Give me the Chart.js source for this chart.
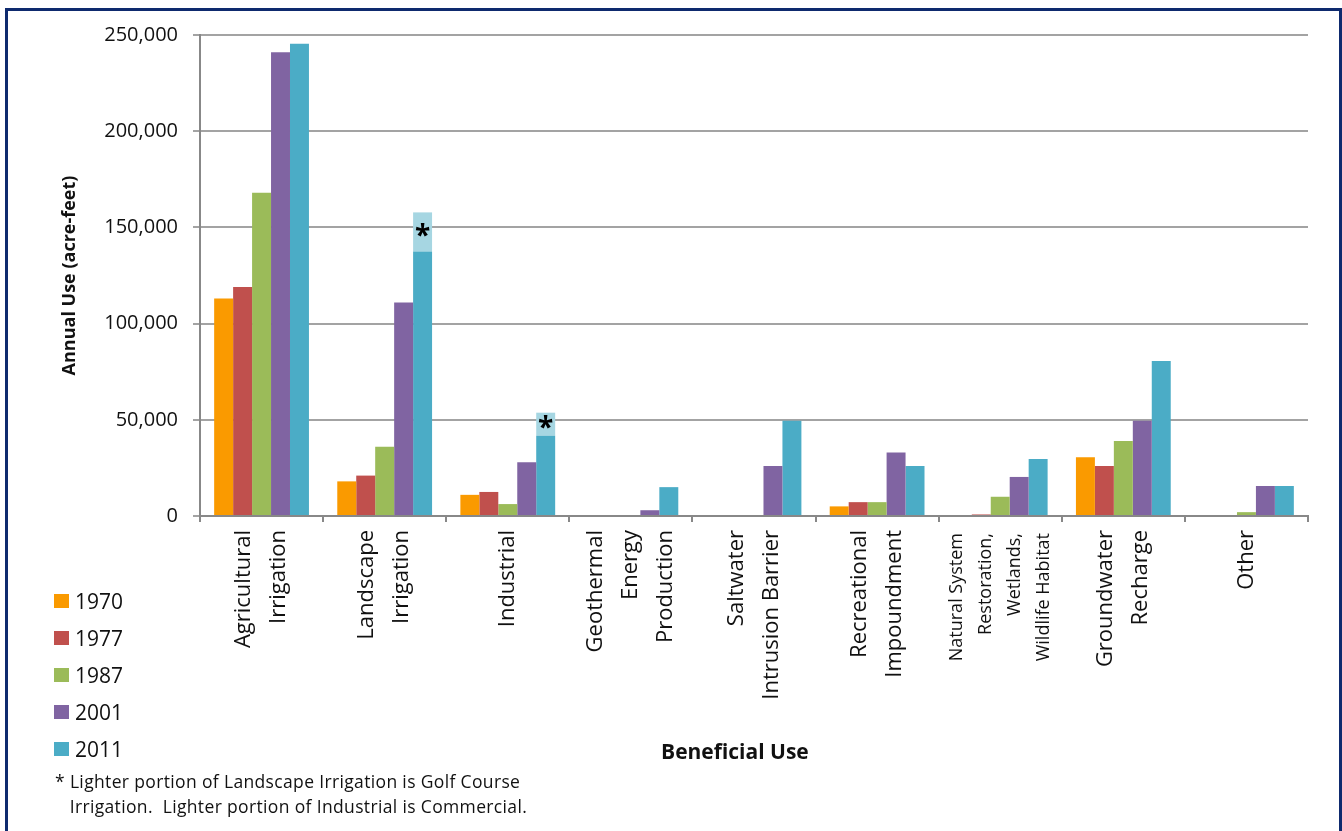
<!DOCTYPE html>
<html>
<head>
<meta charset="utf-8">
<script src="https://cdn.jsdelivr.net/npm/chart.js@4.4.1/dist/chart.umd.min.js"></script>
<style>
  html, body { margin: 0; padding: 0; background: #fff; overflow: hidden; }
  #wrap { position: relative; width: 1342px; height: 831px; }
  #frame { position: absolute; left: 5px; top: 8px; width: 1331px; height: 900px; border: 3px solid #0e2a6e; pointer-events: none; }
  #legend { position: absolute; left: 54px; top: 582px; font-family: 'Open Sans', sans-serif; font-size: 21px; color: #111; }
  .item { height: 37px; display: flex; align-items: center; }
  .box { width: 15px; height: 14px; margin-right: 6px; }
  #note { position: absolute; left: 55px; top: 769px; font-family: 'Open Sans', sans-serif; font-size: 17.5px; letter-spacing: 0.35px; line-height: 25px; color: #111; white-space: pre; }
</style>
</head>
<body>
<div id="wrap">
  <canvas id="myChart" width="1342" height="831"></canvas>
  <div id="legend"></div>
  <div id="note">* Lighter portion of Landscape Irrigation is Golf Course
   Irrigation.  Lighter portion of Industrial is Commercial.</div>
  <div id="frame"></div>
</div>
<script>
'use strict';

const categories = [
	['Agricultural', 'Irrigation'],
	['Landscape', 'Irrigation'],
	['Industrial'],
	['Geothermal', 'Energy', 'Production'],
	['Saltwater', 'Intrusion Barrier'],
	['Recreational', 'Impoundment'],
	['Natural System', 'Restoration,', 'Wetlands,', 'Wildlife Habitat'],
	['Groundwater', 'Recharge'],
	['Other'],
];

const years = ['1970', '1977', '1987', '2001', '2011'];
const colors = ['#fa9a00', '#c0504d', '#9bbb59', '#8064a2', '#4bacc6'];

const use1970 = [113000, 18000, 11000, 0, 0, 5000, 0, 30500, 0];
const use1977 = [119000, 21000, 12500, 0, 0, 7200, 800, 26000, 0];
const use1987 = [168000, 36000, 6200, 0, 0, 7200, 10000, 39000, 2000];
const use2001 = [241000, 111000, 28000, 3000, 26000, 33000, 20300, 49500, 15600];
const use2011 = [245500, 137500, 41700, 15000, 49500, 26000, 29600, 80500, 15600];
// lighter part of 2011: golf course (landscape) and commercial (industrial)
const use2011Light = [0, 20300, 12000, 0, 0, 0, 0, 0, 0];

const yTicks = [0, 50000, 100000, 150000, 200000, 250000];

const series = [use1970, use1977, use1987, use2001, use2011];

const datasets = series.map((vals, i) => ({
	label: years[i],
	data: vals,
	backgroundColor: colors[i],
	stack: 's' + i,
	borderWidth: 0,
}));
datasets.push({
	label: '2011 lighter',
	data: use2011Light,
	backgroundColor: '#a6d6e2',
	stack: 's4',
	borderWidth: 0,
});

const FONT = "'Open Sans', sans-serif";

const xLabels = {
	id: 'xLabels',
	afterDraw(chart) {
		const ctx = chart.ctx;
		const xs = chart.scales.x;
		ctx.save();
		ctx.fillStyle = '#111';
		ctx.textAlign = 'right';
		ctx.textBaseline = 'middle';
		categories.forEach((lines, i) => {
			const small = lines.length > 3;
			const size = small ? 18 : 22;
			const lh = small ? 29 : 35;
			ctx.font = size + 'px ' + FONT;
			const x = xs.getPixelForTick(i);
			ctx.save();
			ctx.translate(x, small ? 533 : 530);
			ctx.rotate(-Math.PI / 2);
			lines.forEach((t, j) => {
				ctx.fillText(t, 0, (j - (lines.length - 1) / 2) * lh);
			});
			ctx.restore();
		});
		ctx.restore();
	},
	afterDatasetsDraw(chart) {
		const ctx = chart.ctx;
		const meta = chart.getDatasetMeta(5);
		ctx.save();
		ctx.fillStyle = '#000';
		ctx.font = 'bold 28px ' + FONT;
		ctx.textAlign = 'center';
		ctx.textBaseline = 'middle';
		meta.data.forEach((el, i) => {
			if (use2011Light[i] > 0) {
				ctx.fillText('*', el.x, (el.y + el.base) / 2 + 5);
			}
		});
		ctx.restore();
	},
};

const ctx = document.getElementById('myChart').getContext('2d');

const myChart = new Chart(ctx, {
	type: 'bar',
	data: {
		labels: categories.map(c => c.join(' ')),
		datasets: datasets,
	},
	options: {
		responsive: false,
		animation: false,
		categoryPercentage: 0.77,
		barPercentage: 1.0,
		layout: { padding: { top: 35, right: 34, left: 0, bottom: 0 } },
		plugins: {
			legend: { display: false },
			tooltip: { enabled: false },
		},
		scales: {
			x: {
				stacked: true,
				afterFit(scale) { scale.height = 315; },
				ticks: { display: false },
				grid: {
					display: true,
					offset: true,
					drawOnChartArea: false,
					drawTicks: true,
					tickLength: 6,
					color: '#888',
					lineWidth: 2,
				},
				border: { color: '#888', width: 2 },
				title: {
					display: true,
					text: 'Beneficial Use       ',
					color: '#111',
					font: { family: FONT, size: 21, weight: 'bold' },
					padding: { top: 0, bottom: 65 },
				},
			},
			y: {
				stacked: true,
				min: 0,
				max: 250000,
				afterFit(scale) { scale.width = 200; },
				afterBuildTicks(scale) { scale.ticks = yTicks.map(v => ({ value: v })); },
				ticks: {
					padding: 15,
					color: '#111',
					font: { family: FONT, size: 20 },
					callback: v => v.toLocaleString('en-US'),
				},
				grid: {
					color: '#a3a3a3',
					lineWidth: 2,
					tickLength: 7,
				},
				border: { color: '#888', width: 2 },
				title: {
					display: true,
					text: 'Annual Use (acre-feet)',
					color: '#111',
					font: { family: FONT, size: 18, weight: 'bold' },
					padding: { top: 59, bottom: 0 },
				},
			},
		},
	},
	plugins: [xLabels],
});

// legend built from the same arrays
const legend = document.getElementById('legend');
years.forEach((y, i) => {
	const item = document.createElement('div');
	item.className = 'item';
	const box = document.createElement('span');
	box.className = 'box';
	box.style.background = colors[i];
	const txt = document.createElement('span');
	txt.textContent = y;
	item.appendChild(box);
	item.appendChild(txt);
	legend.appendChild(item);
});
</script>
</body>
</html>
